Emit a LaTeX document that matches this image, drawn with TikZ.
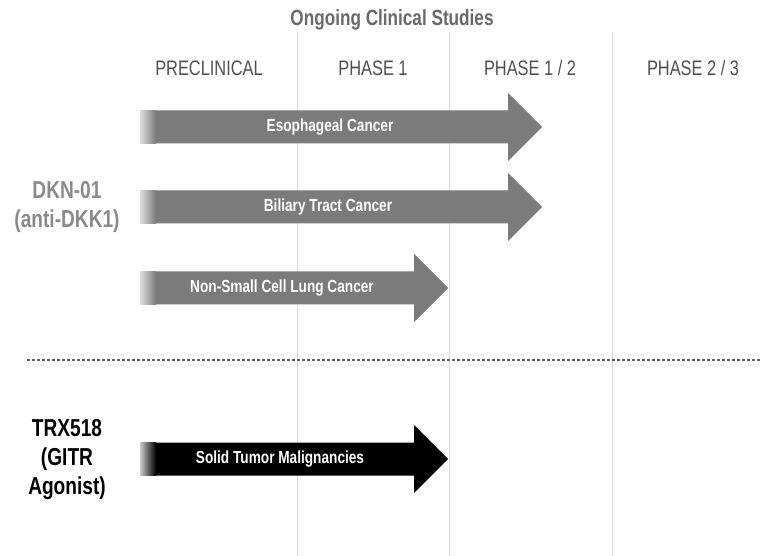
\documentclass[tikz,border=0pt]{standalone}
\usepackage{fontspec}
\setmainfont{Liberation Sans}[FakeStretch=0.78]
\usepackage{tikz}
\usetikzlibrary{positioning}

\definecolor{argray}{HTML}{7B7B7B}
\definecolor{lblgray}{HTML}{8A8A8A}
\definecolor{hdgray}{HTML}{505050}
\definecolor{gridgray}{HTML}{D8D8D8}

\begin{document}
\begin{tikzpicture}[
    x=1pt, y=-1pt,
    title/.style={font=\fontsize{22}{26}\selectfont\bfseries, text=hdgray!85},
    phase/.style={font=\fontsize{21}{25}\selectfont, text=hdgray},
    drug/.style={font=\fontsize{24.5}{29}\selectfont\bfseries, align=center},
    study/.style={font=\fontsize{17.5}{20}\selectfont\bfseries, text=white},
    gridline/.style={draw=gridgray, line width=1pt},
    sepline/.style={draw=hdgray!90, line width=1.8pt, dash pattern=on 3pt off 2pt},
    bar/.style={fill=argray},
    fade/.style={left color=argray!25, right color=argray},
]
\useasboundingbox (0,0) rectangle (761,556);

% Phase columns
\draw[gridline] (297,33) -- (297,556);
\draw[gridline] (449,33) -- (449,556);
\draw[gridline] (612,33) -- (612,556);

\node[title] (T) at (392,20) {Ongoing Clinical Studies};
\node[phase] (P0) at (209,68) {PRECLINICAL};
\node[phase] (P1) at (373,68) {PHASE 1};
\node[phase] (P2) at (530,68) {PHASE 1 / 2};
\node[phase] (P3) at (693,68) {PHASE 2 / 3};

% DKN-01 studies
\fill[bar] (140,110.5) -- (508,110.5) -- (508,93) -- (542,127) -- (508,161) -- (508,143.5) -- (140,143.5) -- cycle;
\shade[fade] (140,110.5) rectangle (156,143.5);
\node[study] (S1) at (330,127) {Esophageal Cancer};

\fill[bar] (140,190.5) -- (508,190.5) -- (508,173) -- (542,207) -- (508,241) -- (508,223.5) -- (140,223.5) -- cycle;
\shade[fade] (140,190.5) rectangle (156,223.5);
\node[study] (S2) at (328,207) {Biliary Tract Cancer};

\fill[bar] (140,271.5) -- (414,271.5) -- (414,254) -- (448,288) -- (414,322) -- (414,304.5) -- (140,304.5) -- cycle;
\shade[fade] (140,271.5) rectangle (156,304.5);
\node[study] (S3) at (282,288) {Non-Small Cell Lung Cancer};

\node[drug, text=lblgray] (D1) at (67,207) {DKN-01\\(anti-DKK1)};

% separator
\draw[sepline] (27,360) -- (761,360);

% TRX518 study
\fill[black] (140,442.5) -- (414,442.5) -- (414,425) -- (448,459) -- (414,493) -- (414,475.5) -- (140,475.5) -- cycle;
\shade[left color=argray!40, right color=black] (140,442.5) rectangle (156,475.5);
\node[study] (S4) at (280,459) {Solid Tumor Malignancies};

\node[drug, text=black] (D2) at (67,460) {TRX518\\(GITR\\Agonist)};

\end{tikzpicture}
\end{document}
